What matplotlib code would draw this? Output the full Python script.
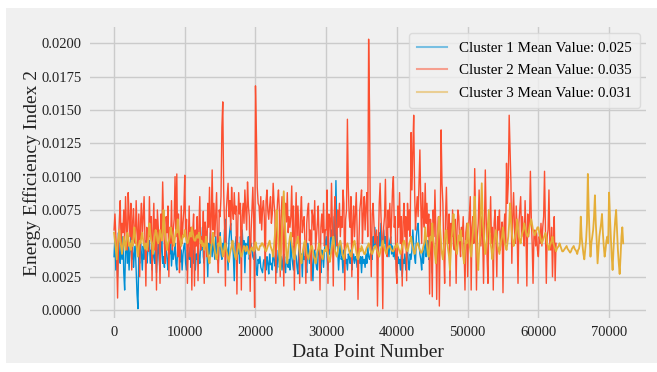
import numpy as np
import matplotlib
matplotlib.use("Agg")
from matplotlib import pyplot as plt
from matplotlib.patches import Rectangle
from matplotlib.ticker import FormatStrFormatter

# distance between recorded points (Data Point Number)
STEP = 125

# Energy Efficiency Index 2, values in units of 1e-4, 40 points (5000 samples) per row
cluster1 = [
    40, 55, 30, 48, 25, 58, 42, 35, 50, 38, 55, 28, 15, 45, 52, 35, 48, 30, 45, 55,
    38, 50, 32, 42, 48, 30, 12, 1, 40, 35, 50, 42, 30, 48, 38, 45, 52, 35, 42, 50,
    52, 35, 45, 30, 50, 40, 35, 48, 28, 42, 50, 38, 30, 45, 55, 35, 40, 32, 52, 45,
    38, 30, 48, 42, 50, 33, 45, 38, 42, 50, 35, 30, 48, 40, 52, 36, 45, 30, 42, 48,
    50, 35, 30, 45, 42, 38, 47, 32, 40, 50, 35, 45, 30, 42, 38, 50, 40, 35, 48, 45,
    62, 40, 35, 55, 48, 45, 25, 50, 42, 58, 48, 40, 52, 45, 38, 55, 42, 48, 35, 52,
    58, 42, 38, 50, 45, 60, 68, 48, 45, 30, 52, 60, 65, 50, 52, 40, 22, 48, 55, 45,
    42, 50, 35, 55, 48, 60, 45, 52, 28, 50, 42, 48, 55, 38, 42, 50, 45, 40, 38, 45,
    42, 30, 26, 38, 35, 40, 32, 30, 28, 36, 38, 33, 30, 40, 35, 27, 42, 34, 35, 30,
    45, 38, 33, 42, 28, 38, 45, 32, 35, 40, 30, 38, 42, 33, 28, 40, 35, 32, 38, 30,
    58, 40, 35, 30, 48, 42, 40, 32, 27, 45, 52, 38, 42, 25, 45, 38, 40, 35, 28, 50,
    45, 35, 42, 48, 35, 22, 40, 45, 38, 32, 30, 42, 50, 35, 28, 45, 40, 32, 45, 50,
    55, 40, 30, 45, 42, 55, 60, 48, 50, 70, 45, 97, 60, 45, 30, 42, 52, 38, 40, 28,
    45, 42, 35, 38, 30, 42, 40, 35, 45, 30, 38, 42, 35, 40, 38, 32, 42, 38, 35, 40,
    28, 40, 35, 38, 32, 42, 35, 48, 40, 38, 42, 45, 38, 55, 48, 62, 50, 45, 55, 42,
    58, 48, 65, 52, 45, 60, 50, 55, 45, 62, 48, 40, 52, 55, 42, 48, 40, 45, 38, 42,
    28, 40, 35, 38, 30, 42, 25, 38, 35, 42, 30, 40, 45, 35, 30, 42, 38, 45, 60, 48,
    40, 35, 55, 62, 65, 50, 42, 38, 30, 45, 35, 48, 55, 40, 45, 52, 38, 42, 48, 40,
    28,
]

cluster2 = [
    60, 72, 55, 40, 9, 50, 68, 82, 48, 65, 58, 75, 52, 85, 62, 45, 88, 70, 55, 80,
    30, 66, 76, 58, 50, 82, 60, 45, 72, 25, 66, 80, 55, 70, 85, 50, 18, 62, 58, 44,
    85, 55, 70, 22, 60, 80, 45, 68, 15, 75, 62, 50, 20, 72, 55, 96, 66, 48, 35, 70,
    58, 78, 25, 62, 50, 82, 45, 60, 68, 100, 55, 102, 40, 72, 28, 44, 78, 50, 65, 75,
    101, 55, 68, 20, 50, 78, 40, 62, 15, 58, 72, 18, 60, 48, 70, 22, 62, 85, 45, 55,
    50, 74, 20, 66, 58, 40, 80, 62, 92, 50, 70, 105, 60, 80, 55, 72, 88, 48, 28, 75,
    70, 85, 137, 156, 90, 62, 18, 75, 85, 95, 70, 82, 60, 92, 75, 68, 88, 72, 78, 12,
    65, 88, 72, 80, 15, 70, 80, 65, 90, 75, 60, 96, 78, 70, 14, 58, 75, 92, 68, 2,
    168, 134, 92, 80, 78, 65, 85, 60, 76, 82, 70, 22, 82, 90, 74, 68, 78, 85, 65, 72,
    95, 80, 72, 20, 68, 82, 90, 75, 25, 70, 85, 60, 18, 72, 80, 66, 88, 58, 70, 62,
    70, 93, 55, 78, 15, 62, 88, 50, 78, 62, 20, 72, 85, 58, 66, 70, 48, 20, 65, 75,
    80, 52, 60, 22, 75, 70, 60, 82, 45, 55, 65, 78, 50, 15, 62, 72, 58, 80, 48, 60,
    60, 90, 20, 72, 68, 55, 95, 62, 18, 70, 85, 58, 48, 75, 62, 80, 55, 70, 62, 90,
    80, 15, 68, 75, 143, 92, 70, 62, 85, 25, 65, 78, 55, 72, 88, 60, 8, 50, 75, 82,
    90, 50, 72, 85, 60, 78, 88, 55, 203, 150, 60, 25, 72, 80, 65, 50, 55, 60, 3, 48,
    80, 95, 70, 55, 1, 62, 70, 98, 55, 40, 75, 62, 80, 50, 68, 90, 100, 62, 70, 30,
    20, 78, 62, 88, 50, 70, 18, 66, 80, 55, 70, 22, 80, 60, 75, 55, 133, 90, 120, 146,
    90, 60, 75, 85, 70, 95, 120, 80, 50, 88, 70, 62, 95, 65, 80, 55, 72, 12, 68, 50,
    10, 75, 55, 90, 62, 8, 55, 70, 3, 60, 135, 95, 80, 45, 20, 70, 92, 60, 50, 72,
    18, 65, 55, 75, 48, 45, 68, 20, 60, 75, 70, 50, 40, 62, 55, 70, 45, 15, 58, 65,
    25, 60, 72, 85, 15, 62, 70, 50, 106, 70, 15, 55, 65, 90, 62, 48, 70, 55, 20, 62,
    105, 68, 40, 20, 70, 58, 85, 50, 62, 15, 65, 75, 55, 25, 70, 60, 75, 45, 58, 66,
    13, 60, 72, 50, 110, 80, 95, 146, 120, 95, 35, 70, 88, 62, 50, 78, 60, 20, 65, 75,
    85, 55, 70, 60, 48, 82, 58, 18, 72, 55, 65, 104, 70, 50, 20, 55, 60, 48, 58, 45,
    40, 55, 50, 65, 48, 62, 70, 104, 60, 20, 55, 60, 90, 50, 45, 62, 25, 55, 70, 22,
    50,
]

cluster3 = [
    58, 52, 45, 38, 50, 55, 60, 52, 48, 42, 48, 55, 50, 45, 52, 58, 55, 48, 50, 45,
    52, 48, 55, 62, 55, 50, 45, 40, 48, 52, 50, 55, 58, 52, 48, 46, 50, 45, 48, 55,
    65, 58, 52, 50, 42, 48, 55, 60, 58, 52, 50, 55, 60, 55, 52, 58, 75, 62, 55, 50,
    45, 50, 52, 55, 62, 58, 55, 50, 48, 55, 60, 58, 68, 60, 55, 52, 48, 52, 56, 55,
    60, 55, 52, 50, 52, 55, 58, 55, 62, 58, 54, 52, 52, 55, 56, 54, 58, 55, 50, 52,
    48, 50, 45, 48, 55, 50, 42, 38, 35, 42, 48, 52, 58, 50, 45, 40, 38, 42, 50, 48,
    55, 48, 45, 40, 42, 48, 50, 45, 42, 38, 36, 42, 45, 48, 52, 46, 44, 40, 38, 42,
    46, 50, 48, 42, 40, 42, 45, 48, 46, 44, 48, 45, 44, 42, 44, 46, 47, 45, 44, 46,
    51, 48, 46, 45, 45, 48, 48, 50, 50, 48, 47, 45, 44, 46, 48, 50, 52, 48, 46, 44,
    40, 48, 55, 65, 75, 60, 48, 40, 30, 45, 60, 75, 89, 70, 55, 40, 35, 45, 50, 55,
    58, 50, 45, 40, 38, 45, 50, 52, 55, 48, 44, 40, 35, 42, 46, 50, 52, 48, 42, 40,
    38, 42, 45, 48, 48, 44, 40, 38, 35, 40, 44, 46, 50, 46, 42, 40, 38, 42, 45, 44,
    48, 45, 42, 38, 36, 40, 45, 50, 55, 50, 44, 42, 40, 44, 48, 50, 52, 48, 43, 40,
    38, 42, 46, 48, 50, 47, 44, 42, 40, 44, 47, 50, 52, 48, 44, 40, 38, 42, 46, 44,
    48, 46, 44, 42, 42, 45, 47, 48, 50, 48, 45, 43, 42, 44, 46, 48, 48, 46, 44, 42,
    40, 43, 46, 48, 52, 49, 46, 44, 42, 45, 47, 48, 48, 46, 45, 44, 44, 46, 48, 47,
    50, 48, 46, 44, 42, 45, 48, 50, 52, 50, 46, 45, 44, 47, 50, 52, 55, 50, 47, 44,
    42, 45, 48, 50, 50, 47, 45, 43, 43, 45, 48, 50, 62, 55, 48, 42, 40, 48, 55, 52,
    65, 55, 48, 42, 35, 45, 55, 62, 70, 60, 50, 42, 38, 45, 52, 58, 60, 50, 45, 40,
    30, 45, 55, 62, 72, 60, 50, 45, 42, 50, 56, 52, 60, 55, 48, 40, 35, 45, 52, 50,
    65, 58, 50, 45, 40, 50, 58, 70, 85, 65, 52, 40, 30, 45, 55, 75, 95, 70, 60, 50,
    42, 48, 55, 65, 75, 60, 50, 45, 38, 45, 52, 56, 60, 55, 48, 45, 42, 48, 52, 55,
    62, 55, 50, 48, 45, 50, 55, 65, 80, 68, 58, 52, 48, 52, 56, 60, 68, 62, 55, 52,
    50, 55, 58, 60, 65, 62, 58, 56, 55, 58, 62, 65, 68, 64, 60, 58, 56, 58, 60, 62,
    62, 58, 55, 52, 50, 52, 54, 56, 58, 54, 50, 48, 45, 48, 50, 52, 55, 50, 48, 46,
    44, 46, 47, 48, 50, 48, 46, 44, 44, 45, 46, 47, 48, 46, 45, 44, 43, 44, 46, 47,
    48, 46, 45, 44, 42, 45, 46, 50, 70, 55, 48, 42, 38, 45, 52, 65, 102, 75, 55, 40,
    50, 55, 60, 70, 86, 65, 52, 35, 45, 55, 60, 65, 72, 58, 48, 40, 45, 52, 55, 50,
    88, 70, 55, 40, 30, 45, 58, 68, 75, 60, 45, 35, 27, 40, 55, 62, 50,
]

labels = ["Cluster 1 Mean Value: 0.025",
          "Cluster 2 Mean Value: 0.035",
          "Cluster 3 Mean Value: 0.031"]
colors = ["#008fd5", "#fc4f30", "#e5ae38"]
widths = [1.0, 1.0, 1.3]

plt.rcParams['font.family'] = ['Liberation Serif', 'DejaVu Serif']

fig = plt.figure(figsize=(6.57, 3.72), dpi=100, facecolor="white")
fig.patches.append(Rectangle((6 / 657, 9 / 372), 651 / 657, 355 / 372,
                             transform=fig.transFigure, facecolor="#f0f0f0",
                             edgecolor="none", zorder=-10))

ax = fig.add_axes([0.137, 0.145, 0.846, 0.782])
ax.set_facecolor("#f0f0f0")

for series, color, lw, label in zip([cluster1, cluster2, cluster3], colors, widths, labels):
    y = np.array(series) * 1e-4
    x = np.arange(len(y)) * STEP
    ax.plot(x, y, color=color, linewidth=lw, label=label)

ax.set_xlim(-3400, 75200)
ax.set_ylim(-0.0006, 0.0212)
ax.set_xticks(np.arange(0, 70001, 10000))
ax.set_yticks(np.arange(0, 0.02001, 0.0025))
ax.yaxis.set_major_formatter(FormatStrFormatter('%.4f'))
ax.tick_params(length=0, labelsize=10.5, colors="#222222", pad=6)
ax.grid(True, color="#cbcbcb", linewidth=1.0)
ax.set_axisbelow(True)
for spine in ax.spines.values():
    spine.set_visible(False)

ax.set_xlabel("Data Point Number", fontsize=14, color="#222222", labelpad=3)
ax.set_ylabel("Energy Efficiency Index 2", fontsize=14, color="#222222", labelpad=0)

leg = ax.legend(loc="upper right", fontsize=10.8, frameon=True, fancybox=True,
                handlelength=2.0, handletextpad=0.8, borderpad=0.55,
                labelspacing=0.6, borderaxespad=0.4)
leg.get_frame().set_facecolor("#f0f0f0")
leg.get_frame().set_edgecolor("#d6d6d6")
for line in leg.get_lines():
    line.set_alpha(0.5)
    line.set_linewidth(1.5)

fig.savefig("out.png", dpi=100, facecolor=fig.get_facecolor())
